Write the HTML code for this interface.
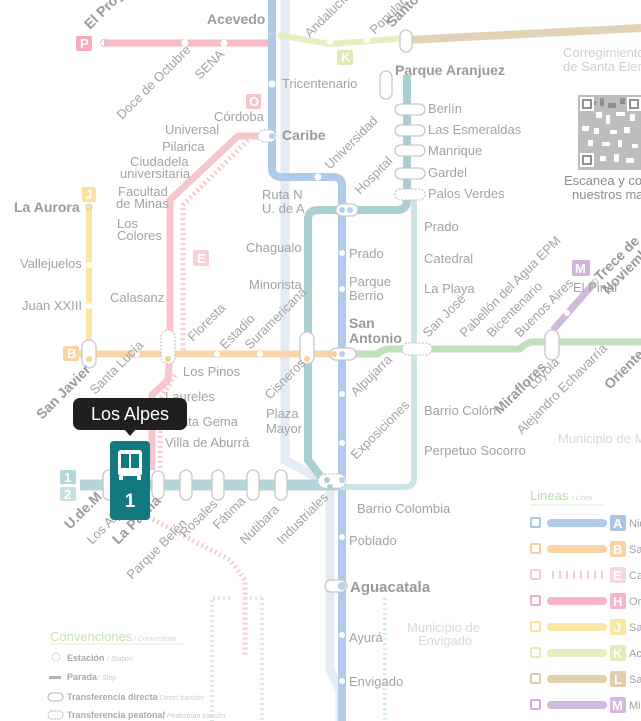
<!DOCTYPE html>
<html><head><meta charset="utf-8"><style>
html,body{margin:0;padding:0;background:#fff;}
svg{display:block}
text{font-family:"Liberation Sans",sans-serif;fill:#a3a3a3;font-size:13px}
.b{font-weight:bold;fill:#9a9a9a}
.s{font-size:11px}
</style></head><body>
<svg width="641" height="721" viewBox="0 0 641 721" xmlns="http://www.w3.org/2000/svg">
<rect width="641" height="721" fill="#fff"/>
<path d="M285 0 V460 L330 485 V670 L340 690 V721" stroke="#e4ebf5" stroke-width="9" fill="none"/>
<path d="M407 40 L641 28" stroke="#e3d3b6" stroke-width="8" fill="none"/>
<path d="M278 35 L330 44 L407 38" stroke="#e6eec0" stroke-width="6" fill="none"/>
<path d="M104 43 H272" stroke="#f6bcc5" stroke-width="7" fill="none"/>
<path d="M265 136 H238 L170 200 V355 L168 380 L152 395 V470" stroke="#f7c6cd" stroke-width="7" fill="none"/>
<path d="M248 140 L183 205 V350 M175 375 L160 400 V470 M135 510 L230 560 L245 580 V655" stroke="#f7ccd2" stroke-width="5" stroke-dasharray="2 3" fill="none"/>
<path d="M89 205 V350" stroke="#fbe6a3" stroke-width="6" fill="none"/>
<path d="M70 354 H345" stroke="#f9d5ac" stroke-width="7" fill="none"/>
<path d="M345 354 H378 Q382 349 390 349 H520 Q526 342 534 342 H641" stroke="#bfe2bb" stroke-width="7" fill="none"/>
<path d="M553 330 L595 282" stroke="#d3b9de" stroke-width="7" fill="none"/>
<path d="M272 0 V168 Q272 177 282 177 H333 Q342 177 342 186 V721" stroke="#aecbe9" stroke-width="8" fill="none"/>
<path d="M407 75 V200 Q407 210 397 210 H318 Q308 210 308 220 V460 L325 482" stroke="#a9cfd3" stroke-width="8" fill="none"/>
<path d="M414 190 V478 Q414 487 405 487 H340" stroke="#cbe4e6" stroke-width="6" fill="none"/>
<path d="M80 485 H340" stroke="#b5d6d9" stroke-width="11" fill="none"/>
<path d="M262 598 H245 M262 598 V721 M230 598 H212 V721 M385 598 V721" stroke="#d6ebe9" stroke-width="4" stroke-dasharray="2 3" fill="none"/>

<g fill="#fff" stroke="#c8c8c8" stroke-width="1.3">
<rect x="82" y="340" width="14" height="28" rx="7"/>
<rect x="161" y="330" width="14" height="34" rx="7" stroke-dasharray="2 1.5"/>
<rect x="300" y="332" width="14" height="32" rx="7"/>
<rect x="330" y="348" width="26" height="12" rx="6"/>
<rect x="402" y="343" width="30" height="12" rx="6" stroke-dasharray="2 1.5"/>
<rect x="545" y="330" width="14" height="30" rx="7"/>
<rect x="380" y="71" width="12" height="28" rx="6"/>
<rect x="395" y="104" width="30" height="11" rx="5.5"/>
<rect x="395" y="125" width="30" height="11" rx="5.5"/>
<rect x="395" y="145" width="30" height="11" rx="5.5"/>
<rect x="395" y="168" width="30" height="11" rx="5.5"/>
<rect x="395" y="189" width="30" height="11" rx="5.5" stroke-dasharray="2 1.5"/>
<rect x="336" y="204" width="22" height="12" rx="6"/>
<rect x="400" y="30" width="12" height="22" rx="6"/>
<rect x="258" y="130" width="18" height="12" rx="6" stroke-dasharray="2 1.5"/>
<rect x="152" y="471" width="12" height="28" rx="6"/>
<rect x="180" y="470" width="12" height="30" rx="6"/>
<rect x="212" y="470" width="12" height="30" rx="6"/>
<rect x="247" y="470" width="12" height="30" rx="6"/>
<rect x="275" y="470" width="12" height="30" rx="6"/>
<rect x="318" y="474" width="28" height="14" rx="7" stroke-dasharray="2 1.5"/>
<rect x="325" y="580" width="22" height="12" rx="6"/>
<rect x="103" y="470" width="12" height="30" rx="6"/>
</g>
<g fill="#fff">
<circle cx="185" cy="43" r="3.5"/><circle cx="224" cy="43" r="3.5"/>
<circle cx="272" cy="84" r="3.5"/><circle cx="318" cy="177" r="3.5"/>
<circle cx="342" cy="253" r="3"/><circle cx="342" cy="289" r="3"/>
<circle cx="342" cy="394" r="3"/><circle cx="342" cy="443" r="3"/>
<circle cx="342" cy="537" r="3"/><circle cx="342" cy="635" r="3"/><circle cx="342" cy="681" r="3"/>
<circle cx="89" cy="265" r="3"/><circle cx="89" cy="306" r="3"/>
<circle cx="137" cy="354" r="3"/><circle cx="217" cy="354" r="3"/><circle cx="260" cy="354" r="3"/>
<circle cx="330" cy="42" r="3"/><circle cx="367" cy="40" r="3"/>
<circle cx="567" cy="313" r="3"/>
</g>
<g fill="none" stroke="#c8c8c8"><circle cx="104" cy="43" r="3.5"/><circle cx="89" cy="207" r="3"/><circle cx="595" cy="282" r="3"/></g>
<g fill="#b7d1ec"><circle cx="272" cy="34" r="3"/><circle cx="272" cy="136" r="3"/><circle cx="342" cy="210" r="3"/><circle cx="350" cy="210" r="3"/><circle cx="342" cy="354" r="3"/><circle cx="342" cy="480" r="3"/><circle cx="342" cy="586" r="4"/></g>
<g fill="#f9cf9e"><circle cx="89" cy="359" r="3"/><circle cx="168" cy="359" r="3"/><circle cx="307" cy="359" r="3"/><circle cx="334" cy="354" r="3"/></g>
<g fill="#a9cfd3"><circle cx="327" cy="480" r="3"/><circle cx="330" cy="487" r="3"/></g>

<g>
<rect x="76" y="36" width="16" height="15" rx="2" fill="#f4aebb"/><text x="80" y="48" style="fill:#fff" class="b">P</text>
<rect x="246" y="94" width="15" height="15" rx="2" fill="#f7c3cc"/><text x="249" y="106" style="fill:#fff" class="b">O</text>
<rect x="82" y="187" width="14" height="15" rx="2" fill="#fbe19b"/><text x="85" y="199" style="fill:#fff" class="b">J</text>
<rect x="193" y="250" width="16" height="16" rx="2" fill="#f8d0d6"/><text x="197" y="263" style="fill:#fff" class="b">E</text>
<rect x="63" y="346" width="16" height="15" rx="2" fill="#f9d3a6"/><text x="67" y="358" style="fill:#fff" class="b">B</text>
<rect x="337" y="50" width="16" height="15" rx="2" fill="#dfeab4"/><text x="341" y="62" style="fill:#fff" class="b">K</text>
<rect x="572" y="260" width="18" height="16" rx="2" fill="#d0b4dc"/><text x="575" y="273" style="fill:#fff" class="b">M</text>
<rect x="60" y="470" width="16" height="14" rx="2" fill="#b5d5da"/><text x="64" y="482" style="fill:#fff" class="b">1</text>
<rect x="60" y="487" width="16" height="14" rx="2" fill="#c6e0e3"/><text x="64" y="499" style="fill:#fff" class="b">2</text>
</g>

<text x="207" y="24" class="b" style="font-size:14px">Acevedo</text>
<text x="282" y="88">Tricentenario</text>
<text x="282" y="140" class="b" style="font-size:14px">Caribe</text>
<text x="214" y="121">Córdoba</text>
<text x="165" y="134">Universal</text>
<text x="162" y="151">Pilarica</text>
<text x="130" y="166">Ciudadela</text>
<text x="120" y="178">universitaria</text>
<text x="118" y="196">Facultad</text>
<text x="116" y="208">de Minas</text>
<text x="117" y="228">Los</text>
<text x="117" y="240">Colores</text>
<text x="110" y="302">Calasanz</text>
<text x="14" y="212" class="b" style="font-size:14px">La Aurora</text>
<text x="20" y="268">Vallejuelos</text>
<text x="22" y="310">Juan XXIII</text>
<text x="262" y="199">Ruta N</text>
<text x="262" y="213">U. de A</text>
<text x="246" y="252">Chagualo</text>
<text x="249" y="289">Minorista</text>
<text x="349" y="258">Prado</text>
<text x="349" y="286">Parque</text>
<text x="349" y="300">Berrio</text>
<text x="349" y="328" class="b" style="font-size:14px">San</text>
<text x="349" y="343" class="b" style="font-size:14px">Antonio</text>
<text x="395" y="75" class="b" style="font-size:14px">Parque Aranjuez</text>
<text x="428" y="113">Berlín</text>
<text x="428" y="134">Las Esmeraldas</text>
<text x="428" y="155">Manrique</text>
<text x="428" y="177">Gardel</text>
<text x="428" y="198">Palos Verdes</text>
<text x="424" y="231">Prado</text>
<text x="424" y="263">Catedral</text>
<text x="424" y="293">La Playa</text>
<text x="424" y="415">Barrio Colón</text>
<text x="424" y="455">Perpetuo Socorro</text>
<text x="357" y="513">Barrio Colombia</text>
<text x="349" y="545">Poblado</text>
<text x="350" y="592" class="b" style="font-size:15px">Aguacatala</text>
<text x="349" y="642">Ayurá</text>
<text x="349" y="686">Envigado</text>
<text x="183" y="376">Los Pinos</text>
<text x="165" y="401">Laureles</text>
<text x="165" y="426">Santa Gema</text>
<text x="165" y="447">Villa de Aburrá</text>
<text x="266" y="418">Plaza</text>
<text x="266" y="433">Mayor</text>
<text x="573" y="292">El Pinal</text>
<text x="563" y="57" style="fill:#d0d0d0">Corregimiento</text>
<text x="563" y="71" style="fill:#d0d0d0">de Santa Elena</text>
<text x="564" y="185" style="fill:#8e8e8e">Escanea y conoce</text>
<text x="572" y="199" style="fill:#8e8e8e">nuestros mapas</text>
<text x="558" y="443" style="fill:#d8d8d8">Municipio de M</text>
<text x="407" y="632" style="fill:#d8d8d8">Municipio de</text>
<text x="418" y="645" style="fill:#d8d8d8">Envigado</text>

<g>
<text transform="translate(90,30) rotate(-45)" class="b" style="font-size:14px">El Progreso</text>
<text transform="translate(122,120) rotate(-45)">Doce de Octubre</text>
<text transform="translate(200,80) rotate(-45)">SENA</text>
<text transform="translate(310,38) rotate(-45)">Andalucía</text>
<text transform="translate(375,35) rotate(-45)">Popular</text>
<text transform="translate(392,28) rotate(-45)" class="b" style="font-size:14px">Santo Domingo</text>
<text transform="translate(330,170) rotate(-45)">Universidad</text>
<text transform="translate(360,195) rotate(-45)">Hospital</text>
<text transform="translate(193,342) rotate(-45)">Floresta</text>
<text transform="translate(225,350) rotate(-45)">Estadio</text>
<text transform="translate(250,350) rotate(-45)">Suramericana</text>
<text transform="translate(42,420) rotate(-45)" class="b" style="font-size:14px">San Javier</text>
<text transform="translate(95,395) rotate(-45)">Santa Lucía</text>
<text transform="translate(270,400) rotate(-45)">Cisneros</text>
<text transform="translate(356,397) rotate(-45)">Alpujarra</text>
<text transform="translate(356,460) rotate(-45)">Exposiciones</text>
<text transform="translate(428,338) rotate(-45)">San José</text>
<text transform="translate(465,338) rotate(-45)">Pabellón del Agua EPM</text>
<text transform="translate(492,338) rotate(-45)">Bicentenario</text>
<text transform="translate(520,338) rotate(-45)">Buenos Aires</text>
<text transform="translate(600,282) rotate(-45)" class="b" style="font-size:14px">Trece de</text>
<text transform="translate(608,295) rotate(-45)" class="b" style="font-size:14px">Noviembre</text>
<text transform="translate(500,415) rotate(-45)" class="b" style="font-size:14px">Miraflores</text>
<text transform="translate(533,390) rotate(-45)">Loyola</text>
<text transform="translate(522,435) rotate(-45)">Alejandro Echavarría</text>
<text transform="translate(610,390) rotate(-45)" class="b" style="font-size:14px">Oriente</text>
<text transform="translate(70,530) rotate(-45)" class="b" style="font-size:14px">U.de.M</text>
<text transform="translate(92,545) rotate(-45)">Los Alpes</text>
<text transform="translate(118,545) rotate(-45)" class="b" style="font-size:14px">La Palma</text>
<text transform="translate(132,580) rotate(-45)">Parque Belén</text>
<text transform="translate(185,538) rotate(-45)">Rosales</text>
<text transform="translate(218,530) rotate(-45)">Fátima</text>
<text transform="translate(245,545) rotate(-45)">Nutibara</text>
<text transform="translate(282,545) rotate(-45)">Industriales</text>
</g>

<!-- QR -->
<g fill="#8f8f8f">
<rect x="578" y="95" width="63" height="75" fill="#bdbdbd"/>
<rect x="581" y="98" width="5" height="5"/><rect x="590" y="101" width="6" height="4"/><rect x="600" y="98" width="4" height="8"/><rect x="608" y="103" width="8" height="5"/><rect x="620" y="98" width="5" height="6"/><rect x="630" y="100" width="8" height="5"/>
<rect x="596" y="112" width="6" height="6" fill="#fff"/><rect x="606" y="115" width="4" height="9" fill="#fff"/><rect x="616" y="112" width="9" height="4" fill="#fff"/><rect x="630" y="114" width="5" height="7" fill="#fff"/>
<rect x="582" y="126" width="7" height="5" fill="#fff"/><rect x="594" y="128" width="5" height="6" fill="#fff"/><rect x="610" y="130" width="7" height="4" fill="#fff"/><rect x="624" y="127" width="6" height="6" fill="#fff"/>
<rect x="588" y="140" width="5" height="6" fill="#fff"/><rect x="602" y="142" width="8" height="4" fill="#fff"/><rect x="618" y="140" width="4" height="7" fill="#fff"/><rect x="632" y="144" width="6" height="4" fill="#fff"/>
<rect x="600" y="156" width="6" height="5" fill="#fff"/><rect x="614" y="154" width="5" height="8" fill="#fff"/><rect x="626" y="158" width="8" height="5" fill="#fff"/>
<rect x="580" y="97" width="14" height="14" fill="#fff"/><rect x="582" y="99" width="10" height="10"/><rect x="584" y="101" width="6" height="6" fill="#fff"/>
<rect x="580" y="153" width="14" height="14" fill="#fff"/><rect x="582" y="155" width="10" height="10"/><rect x="584" y="157" width="6" height="6" fill="#fff"/>
<rect x="627" y="97" width="14" height="14" fill="#fff"/><rect x="629" y="99" width="10" height="10"/><rect x="631" y="101" width="6" height="6" fill="#fff"/>
</g>

<text x="530" y="500" style="fill:#b8dca6;font-size:13px">Lineas</text><text x="572" y="500" style="fill:#cfcfcf;font-size:7px;font-style:italic">/ Lines</text>
<line x1="530" y1="505" x2="605" y2="505" stroke="#d8ecd0"/>
<g>
<rect x="531" y="518" width="9" height="9" rx="1" fill="none" stroke="#a9c6e6" stroke-width="2"/><rect x="547" y="519" width="60" height="8" rx="4" fill="#aecbe9"/><rect x="610" y="515" width="16" height="16" rx="2" fill="#a9c6e6"/><text x="613" y="528" style="fill:#fff;font-weight:bold">A</text><text x="629" y="527" class="s">Niq</text>
<rect x="531" y="544" width="9" height="9" rx="1" fill="none" stroke="#f8cfa0" stroke-width="2"/><rect x="547" y="545" width="60" height="8" rx="4" fill="#f9d3a6"/><rect x="610" y="541" width="16" height="16" rx="2" fill="#f9d3a6"/><text x="613" y="554" style="fill:#fff;font-weight:bold">B</text><text x="629" y="553" class="s">San</text>
<rect x="531" y="570" width="9" height="9" rx="1" fill="none" stroke="#f8ccd2" stroke-width="2"/><line x1="552" y1="575" x2="605" y2="575" stroke="#f8ccd2" stroke-width="8" stroke-dasharray="2 5"/><rect x="610" y="567" width="16" height="16" rx="2" fill="#f8d6db"/><text x="613" y="580" style="fill:#fff;font-weight:bold">E</text><text x="629" y="579" class="s">Car</text>
<rect x="531" y="596" width="9" height="9" rx="1" fill="none" stroke="#f3acc8" stroke-width="2"/><rect x="547" y="597" width="60" height="8" rx="4" fill="#f4b5cd"/><rect x="610" y="593" width="16" height="16" rx="2" fill="#f4b5cd"/><text x="613" y="606" style="fill:#fff;font-weight:bold">H</text><text x="629" y="605" class="s">Ori</text>
<rect x="531" y="622" width="9" height="9" rx="1" fill="none" stroke="#fbe39a" stroke-width="2"/><rect x="547" y="623" width="60" height="8" rx="4" fill="#fbe6a3"/><rect x="610" y="619" width="16" height="16" rx="2" fill="#fbe6a3"/><text x="614" y="632" style="fill:#fff;font-weight:bold">J</text><text x="629" y="631" class="s">San</text>
<rect x="531" y="648" width="9" height="9" rx="1" fill="none" stroke="#e2ecb4" stroke-width="2"/><rect x="547" y="649" width="60" height="8" rx="4" fill="#e6eec0"/><rect x="610" y="645" width="16" height="16" rx="2" fill="#e2ecb4"/><text x="613" y="658" style="fill:#fff;font-weight:bold">K</text><text x="629" y="657" class="s">Ac</text>
<rect x="531" y="674" width="9" height="9" rx="1" fill="none" stroke="#ddc9a6" stroke-width="2"/><rect x="547" y="675" width="60" height="8" rx="4" fill="#e0ceac"/><rect x="610" y="671" width="16" height="16" rx="2" fill="#e0ceac"/><text x="614" y="684" style="fill:#fff;font-weight:bold">L</text><text x="629" y="683" class="s">San</text>
<rect x="531" y="700" width="9" height="9" rx="1" fill="none" stroke="#cdb0d8" stroke-width="2"/><rect x="547" y="701" width="60" height="8" rx="4" fill="#d3b9de"/><rect x="610" y="697" width="16" height="16" rx="2" fill="#d3b9de"/><text x="612" y="710" style="fill:#fff;font-weight:bold">M</text><text x="629" y="709" class="s">Mir</text>
</g>

<text x="50" y="641" style="fill:#c7e2ae;font-size:13px">Convenciones</text><text x="134" y="641" style="fill:#d5d5d5;font-size:7px;font-style:italic">/ Conventions</text>
<line x1="50" y1="644" x2="185" y2="644" stroke="#e0eed8"/>
<circle cx="56" cy="657" r="4" fill="none" stroke="#d8d8d8"/>
<text x="67" y="661" style="font-size:9px;font-weight:bold;fill:#aaa">Estación</text><text x="107" y="661" style="font-size:7px;fill:#ccc;font-style:italic">/ Station</text>
<rect x="49" y="676" width="12" height="3" fill="#b5b5b5"/>
<text x="67" y="680" style="font-size:9px;font-weight:bold;fill:#aaa">Parada</text><text x="98" y="680" style="font-size:7px;fill:#ccc;font-style:italic">/ Stop</text>
<rect x="48" y="693" width="15" height="8" rx="4" fill="none" stroke="#b0b0b0"/>
<text x="67" y="700" style="font-size:9px;font-weight:bold;fill:#aaa">Transferencia directa</text><text x="156" y="700" style="font-size:7px;fill:#ccc;font-style:italic">/ Direct transfer</text>
<rect x="48" y="711" width="15" height="8" rx="4" fill="none" stroke="#b0b0b0" stroke-dasharray="1.5 1"/>
<text x="67" y="718" style="font-size:9px;font-weight:bold;fill:#aaa">Transferencia peatonal</text><text x="163" y="718" style="font-size:7px;fill:#ccc;font-style:italic">/ Pedestrian transfer</text>

<rect x="73" y="398" width="114" height="32" rx="7" fill="#1f1f1f"/>
<path d="M124 429 L130 436 L136 429 Z" fill="#1f1f1f"/>
<text x="130" y="420" text-anchor="middle" style="fill:#fff;font-size:18px">Los Alpes</text>
<rect x="110" y="441" width="40" height="79" rx="4" fill="#127980"/>
<rect x="118" y="450" width="24" height="26" rx="3" fill="#fff"/>
<rect x="121" y="454" width="8" height="14" fill="#127980"/><rect x="131" y="454" width="8" height="14" fill="#127980"/>
<rect x="119" y="476" width="4" height="4" fill="#fff"/><rect x="137" y="476" width="4" height="4" fill="#fff"/>
<text x="130" y="507" text-anchor="middle" style="fill:#fff;font-size:19px;font-weight:bold">1</text>
</svg>
</body></html>
